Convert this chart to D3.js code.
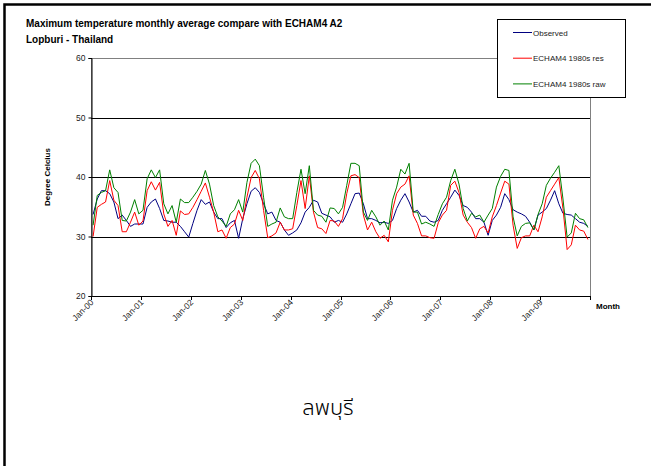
<!DOCTYPE html>
<html>
<head>
<meta charset="utf-8">
<script src="https://cdn.jsdelivr.net/npm/d3@7"></script>
<style>
  html, body { margin: 0; padding: 0; background: #fff; overflow: hidden; }
  svg { display: block; }
  text { font-family: Arial, "Liberation Sans", sans-serif; }
</style>
</head>
<body>
<div id="chart"></div>
<script>
// month categories, Jan-00 .. Dec-09
var monthNames = ["Jan","Feb","Mar","Apr","May","Jun","Jul","Aug","Sep","Oct","Nov","Dec"];
var years = ["00","01","02","03","04","05","06","07","08","09"];
var months = [];
years.forEach(function(y) { monthNames.forEach(function(m) { months.push(m + "-" + y); }); });

var yTicks = [20, 30, 40, 50, 60];

// values
var observed = [33.7,36.3,37.7,37.7,37.2,35.8,33.0,33.6,32.7,31.7,32.1,32.1,
  32.1,34.9,35.8,36.3,34.7,32.7,32.6,32.4,32.4,31.7,30.8,29.9,
  32.2,34.4,36.2,35.4,35.8,34.1,33.0,33.0,31.5,32.3,32.7,29.7,
  33.0,35.5,37.6,38.2,37.4,35.5,33.8,34.1,32.7,32.4,31.1,30.2,
  30.6,31.1,32.3,34.1,34.9,36.1,35.8,33.9,33.6,33.3,32.4,32.7,
  32.4,33.8,35.5,37.2,37.3,35.5,33.0,33.0,32.7,32.3,32.4,32.2,
  32.7,34.7,36.1,37.2,35.8,34.1,34.4,33.4,33.4,32.6,32.4,32.7,
  34.4,35.5,36.6,37.8,36.9,35.2,34.9,34.1,33.0,33.0,32.4,30.2,
  32.7,33.6,34.9,37.2,36.2,34.5,34.1,33.8,33.4,32.4,31.1,33.6,
  34.1,34.7,36.1,37.7,35.5,33.9,33.7,33.6,33.0,32.4,32.2,31.7];

var res1980 = [30.0,34.9,35.4,35.8,39.4,36.1,35.2,30.8,30.8,32.4,34.1,31.9,
  32.6,37.7,39.2,37.8,39.1,33.8,31.7,32.7,30.2,34.3,33.7,33.8,
  34.9,36.2,37.6,39.0,36.6,34.1,30.8,31.1,29.7,31.5,32.1,34.4,
  32.7,36.6,39.9,41.1,39.7,34.4,29.8,30.1,30.6,32.4,31.1,31.1,
  31.3,35.2,39.4,34.7,40.2,34.1,31.5,31.3,30.5,32.7,32.6,31.7,
  33.0,37.2,40.2,40.4,39.9,33.6,31.1,32.4,30.8,29.7,30.2,29.1,
  34.4,37.2,38.3,38.8,40.2,33.6,32.2,30.1,30.1,29.8,29.7,32.3,
  33.6,34.4,38.6,39.3,37.4,33.6,32.4,31.5,29.7,31.3,31.7,30.6,
  33.3,35.2,37.3,39.3,38.8,31.9,28.0,29.8,30.1,30.1,31.9,30.8,
  33.3,36.6,37.7,38.8,39.9,34.7,27.8,28.6,31.9,31.1,30.9,29.5];

var raw1980 = [31.9,36.9,37.4,37.7,41.2,38.2,37.4,32.7,32.6,34.1,36.2,33.8,
  34.4,39.7,41.2,39.9,41.2,35.5,33.8,35.2,32.4,36.3,35.7,35.7,
  36.6,37.6,38.8,41.1,38.8,35.2,33.3,32.6,31.7,33.8,34.5,36.2,
  34.1,39.1,42.3,43.0,41.9,36.6,31.7,32.1,32.4,34.8,33.3,33.0,
  33.0,37.4,41.3,37.2,41.9,34.4,33.6,33.4,32.4,34.8,34.7,33.8,
  34.9,38.6,42.3,42.3,41.9,34.1,32.7,34.4,33.3,31.9,32.6,31.1,
  36.1,38.3,41.3,40.5,42.3,34.1,34.1,32.1,32.4,32.1,31.7,33.7,
  35.5,36.6,39.4,41.3,38.8,34.7,32.6,33.9,33.3,33.6,32.4,33.6,
  34.7,38.3,40.1,41.3,41.1,33.3,30.1,31.7,32.2,32.3,31.1,33.7,
  35.5,38.6,39.8,40.8,41.9,36.3,29.9,30.6,33.9,33.0,32.8,31.5];

var seriesNames = ["Observed", "ECHAM4 1980s res", "ECHAM4 1980s raw"];
var seriesColors = ["#000080", "#ff0000", "#008000"];
var seriesData = [observed, res1980, raw1980];

var W = 651, H = 466;
var pLeft = 91, pRight = 590, pTop = 58, pBottom = 296;

var svg = d3.select("#chart").append("svg")
    .attr("width", W)
    .attr("height", H);

svg.append("rect").attr("width", W).attr("height", H).attr("fill", "#fff");

// outer frame: only the top and left edges fall inside the window
svg.append("path")
    .attr("d", "M4.5," + H + "V4.5H" + W)
    .attr("fill", "none")
    .attr("stroke", "#000")
    .attr("stroke-width", 2.5);

var x = d3.scaleBand().domain(months).range([pLeft, pRight]);
var y = d3.scaleLinear().domain([20, 60]).range([pBottom, pTop]);

// plot area border
svg.append("rect")
    .attr("x", pLeft + 0.5).attr("y", pTop + 0.5)
    .attr("width", pRight - pLeft).attr("height", pBottom - pTop)
    .attr("fill", "none")
    .attr("stroke", "#808080")
    .attr("stroke-width", 1);

// gridlines
svg.append("g").selectAll("line")
    .data(yTicks.filter(function(t) { return t > 20 && t < 60; }))
    .join("line")
    .attr("x1", pLeft).attr("x2", pRight)
    .attr("y1", function(d) { return Math.round(y(d)) + 0.5; })
    .attr("y2", function(d) { return Math.round(y(d)) + 0.5; })
    .attr("stroke", "#000");

// y axis
var yAxis = svg.append("g")
    .attr("transform", "translate(" + (pLeft + 0.5) + ",0)")
    .call(d3.axisLeft(y).tickValues(yTicks).tickSize(3).tickPadding(3).tickFormat(d3.format("d")));
yAxis.select(".domain").attr("stroke", "#000");
yAxis.selectAll("text").attr("font-size", 8.5).attr("fill", "#222")
    .style("font-family", "Arial, 'Liberation Sans', sans-serif");

// x axis: ticks at each January boundary and at the end
var janMonths = months.filter(function(m, i) { return i % 12 === 0; });
var xTickPos = janMonths.map(function(m) { return x(m); });
xTickPos.push(pRight);
var xg = svg.append("g");
xg.append("line")
    .attr("x1", pLeft).attr("x2", pRight)
    .attr("y1", pBottom + 0.5).attr("y2", pBottom + 0.5)
    .attr("stroke", "#000");
xg.selectAll("line.tick").data(xTickPos).join("line")
    .attr("class", "tick")
    .attr("x1", function(d) { return Math.round(d) + 0.5; })
    .attr("x2", function(d) { return Math.round(d) + 0.5; })
    .attr("y1", pBottom).attr("y2", pBottom + 4)
    .attr("stroke", "#000");
xg.selectAll("text.lbl").data(janMonths)
    .join("text")
    .attr("class", "lbl")
    .attr("transform", function(d) {
      return "translate(" + (x(d) + x.bandwidth() / 2 + 1) + "," + (pBottom + 7) + ") rotate(-45)";
    })
    .attr("text-anchor", "end")
    .attr("font-size", 8.5)
    .attr("fill", "#222")
    .text(function(d) { return d; });

// lines
var line = d3.line()
    .x(function(d, i) { return x(months[i]) + x.bandwidth() / 2; })
    .y(function(d) { return y(d); });

svg.append("g").selectAll("path")
    .data(seriesData)
    .join("path")
    .attr("d", line)
    .attr("fill", "none")
    .attr("stroke", function(d, i) { return seriesColors[i]; })
    .attr("stroke-width", 1);

// titles
svg.append("text").attr("x", 26).attr("y", 27)
    .attr("font-size", 10).attr("font-weight", "bold")
    .text("Maximum temperature monthly average compare with ECHAM4 A2");
svg.append("text").attr("x", 26).attr("y", 43)
    .attr("font-size", 10).attr("font-weight", "bold")
    .text("Lopburi - Thailand");

svg.append("text")
    .attr("transform", "translate(50," + ((pTop + pBottom) / 2) + ") rotate(-90)")
    .attr("text-anchor", "middle")
    .attr("font-size", 8).attr("font-weight", "bold")
    .text("Degree Celcius");

svg.append("text").attr("x", 596).attr("y", 309)
    .attr("font-size", 8).attr("font-weight", "bold")
    .text("Month");

// legend
var lg = svg.append("g");
lg.append("rect")
    .attr("x", 497.5).attr("y", 19.5)
    .attr("width", 128).attr("height", 78)
    .attr("fill", "#fff").attr("stroke", "#000");
var rows = lg.selectAll("g.row").data(seriesNames).join("g")
    .attr("class", "row")
    .attr("transform", function(d, i) { return "translate(513," + (32.5 + i * 25.7) + ")"; });
rows.append("line")
    .attr("x1", 0).attr("x2", 19)
    .attr("stroke", function(d, i) { return seriesColors[i]; });
rows.append("text")
    .attr("x", 20).attr("y", 3)
    .attr("font-size", 8).attr("fill", "#222")
    .text(function(d) { return d; });

// Thai caption
svg.append("text")
    .attr("x", 328).attr("y", 415)
    .attr("text-anchor", "middle")
    .attr("font-size", 22)
    .attr("font-weight", 300)
    .style("font-family", "Tahoma, 'Noto Sans Thai', 'Noto Sans', 'DejaVu Sans', sans-serif")
    .text("ลพบุรี");
</script>
</body>
</html>
